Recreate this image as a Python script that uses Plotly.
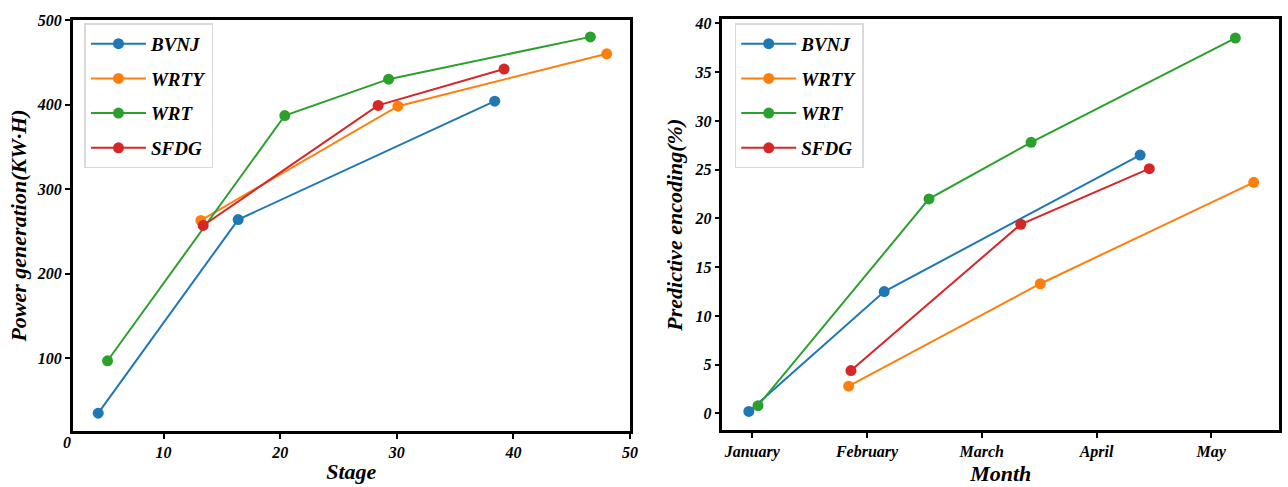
import plotly.graph_objects as go

# ---- Left panel data: Stage vs Power generation ----
series_names = ["BVNJ", "WRTY", "WRT", "SFDG"]
colors = ["#1f77b4", "#ff7f0e", "#2ca02c", "#d62728"]

stage_bvnj = [4.4, 16.4, 38.4]
power_bvnj = [35, 264, 404]
stage_wrty = [13.2, 30.1, 48.0]
power_wrty = [263, 398, 460]
stage_wrt = [5.2, 20.4, 29.3, 46.6]
power_wrt = [97, 387, 430, 480]
stage_sfdg = [13.4, 28.4, 39.2]
power_sfdg = [257, 399, 442]

# ---- Right panel data: Month vs Predictive encoding ----
month_labels = ["January", "February", "March", "April", "May"]
month_pos = [0, 1, 2, 3, 4]
mon_bvnj = [-0.03, 1.15, 3.38]
enc_bvnj = [0.2, 12.5, 26.5]
mon_wrty = [0.84, 2.51, 4.37]
enc_wrty = [2.8, 13.3, 23.7]
mon_wrt = [0.05, 1.54, 2.43, 4.21]
enc_wrt = [0.8, 22.0, 27.8, 38.5]
mon_sfdg = [0.86, 2.34, 3.46]
enc_sfdg = [4.4, 19.4, 25.1]

left_x = [stage_bvnj, stage_wrty, stage_wrt, stage_sfdg]
left_y = [power_bvnj, power_wrty, power_wrt, power_sfdg]
right_x = [mon_bvnj, mon_wrty, mon_wrt, mon_sfdg]
right_y = [enc_bvnj, enc_wrty, enc_wrt, enc_sfdg]

FONT = "Liberation Serif"
fig = go.Figure()

for i, name in enumerate(series_names):
    fig.add_trace(go.Scatter(
        x=left_x[i], y=left_y[i], mode="lines+markers", name=name,
        line=dict(color=colors[i], width=2), marker=dict(size=11, color=colors[i]),
        xaxis="x", yaxis="y", legend="legend", legendgroup="L" + name))
for i, name in enumerate(series_names):
    fig.add_trace(go.Scatter(
        x=right_x[i], y=right_y[i], mode="lines+markers", name=name,
        line=dict(color=colors[i], width=2), marker=dict(size=11, color=colors[i]),
        xaxis="x2", yaxis="y2", legend="legend2", legendgroup="R" + name))

tickfont = dict(family=FONT, size=16, color="black", weight="bold", style="italic")
titlefont = dict(family=FONT, size=22, color="black", weight="bold", style="italic")
axis_common = dict(showline=True, linecolor="black", linewidth=2.5, mirror=True,
                   ticks="outside", ticklen=5, tickwidth=1.5, tickcolor="black",
                   showgrid=False, zeroline=False, tickfont=tickfont)

legend_common = dict(bgcolor="white", bordercolor="#d9d9d9", borderwidth=1.5,
                     font=dict(family=FONT, size=19, color="black", weight="bold", style="italic"),
                     tracegroupgap=7, itemwidth=55, xanchor="left", yanchor="top")

fig.update_layout(
    width=1288, height=487,
    margin=dict(l=0, r=0, t=0, b=0),
    paper_bgcolor="white", plot_bgcolor="white",
    xaxis=dict(domain=[0.0567, 0.4922], range=[2.2, 50], tickvals=[10, 20, 30, 40, 50],
               title=dict(text="Stage", font=titlefont, standoff=4), anchor="y", **axis_common),
    yaxis=dict(domain=[0.117, 0.975], range=[14, 500], tickvals=[100, 200, 300, 400, 500],
               title=dict(text="Power generation(KW·H)", font=titlefont, standoff=4),
               anchor="x", **axis_common),
    xaxis2=dict(domain=[0.5644, 0.9992], range=[-0.26, 4.59], tickvals=month_pos,
                ticktext=month_labels,
                title=dict(text="Month", font=titlefont, standoff=6), anchor="y2", **axis_common),
    yaxis2=dict(domain=[0.119, 0.976], range=[-1.7, 40.4], tickvals=list(range(0, 41, 5)),
                title=dict(text="Predictive encoding(%)", font=titlefont, standoff=6),
                anchor="x2", **axis_common),
    legend=dict(x=0.066, y=0.968, **legend_common),
    legend2=dict(x=0.574, y=0.968, **legend_common),
    showlegend=True,
    annotations=[dict(text="0", x=0.052, y=0.093, xref="paper", yref="paper",
                      showarrow=False, font=tickfont, xanchor="center", yanchor="middle")],
)

fig.write_html("out.html")
